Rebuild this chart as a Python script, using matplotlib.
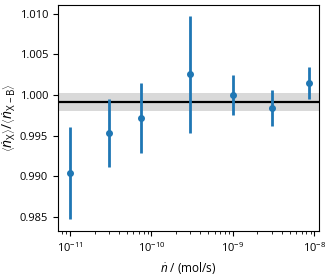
import numpy as np
import matplotlib
matplotlib.use("Agg")
import matplotlib.pyplot as plt

plt.rcParams['font.family'] = ['Open Sans', 'DejaVu Sans']
plt.rcParams['mathtext.fontset'] = 'custom'
plt.rcParams['mathtext.rm'] = 'Open Sans'
plt.rcParams['mathtext.it'] = 'Open Sans:italic'
plt.rcParams['font.size'] = 8

# data
flow = [1e-11, 3e-11, 7.5e-11, 3e-10, 1e-9, 3e-9, 8.5e-9]
ratio = [0.9904, 0.99535, 0.99719, 1.00255, 1.0000, 0.99846, 1.0015]
err_hi = [0.9961, 0.99953, 1.0015, 1.0098, 1.00253, 1.00064, 1.00351]
err_lo = [0.9847, 0.99116, 0.99288, 0.99535, 0.99756, 0.99624, 0.99949]
mean_ratio = 0.9992
band = (0.99805, 1.00031)

ratio = np.array(ratio)
yerr = [ratio - np.array(err_lo), np.array(err_hi) - ratio]

fig = plt.figure(figsize=(3.25, 2.75), dpi=100)
ax = fig.add_axes([0.178, 0.16, 0.804, 0.822])

ax.axhspan(band[0], band[1], color='#d9d9d9', lw=0, zorder=1)
ax.axhline(mean_ratio, color='black', lw=1.6, zorder=2)
ax.errorbar(flow, ratio, yerr=yerr, fmt='o', color='#1f77b4', ms=4,
            elinewidth=2, capsize=0, zorder=3)

ax.set_xscale('log')
ax.set_xlim(10**-11.15, 10**-7.94)
ax.set_ylim(0.98327, 1.0111)
ax.set_yticks([0.985, 0.990, 0.995, 1.000, 1.005, 1.010])
ax.set_yticklabels(['0.985', '0.990', '0.995', '1.000', '1.005', '1.010'])
ax.set_xticks([1e-11, 1e-10, 1e-9, 1e-8])

ax.set_xlabel(r'$\dot{n}$ / (mol/s)', fontsize=8.5)
ax.set_ylabel(r'$\left\langle\dot{n}_\mathrm{X}\right\rangle/\left\langle\dot{n}_\mathrm{X-B}\right\rangle$',
              fontsize=10, labelpad=1)
ax.tick_params(direction='out', length=3.5, width=0.8)
ax.tick_params(which='minor', length=2, width=0.6)

fig.savefig('out.png', dpi=100)
